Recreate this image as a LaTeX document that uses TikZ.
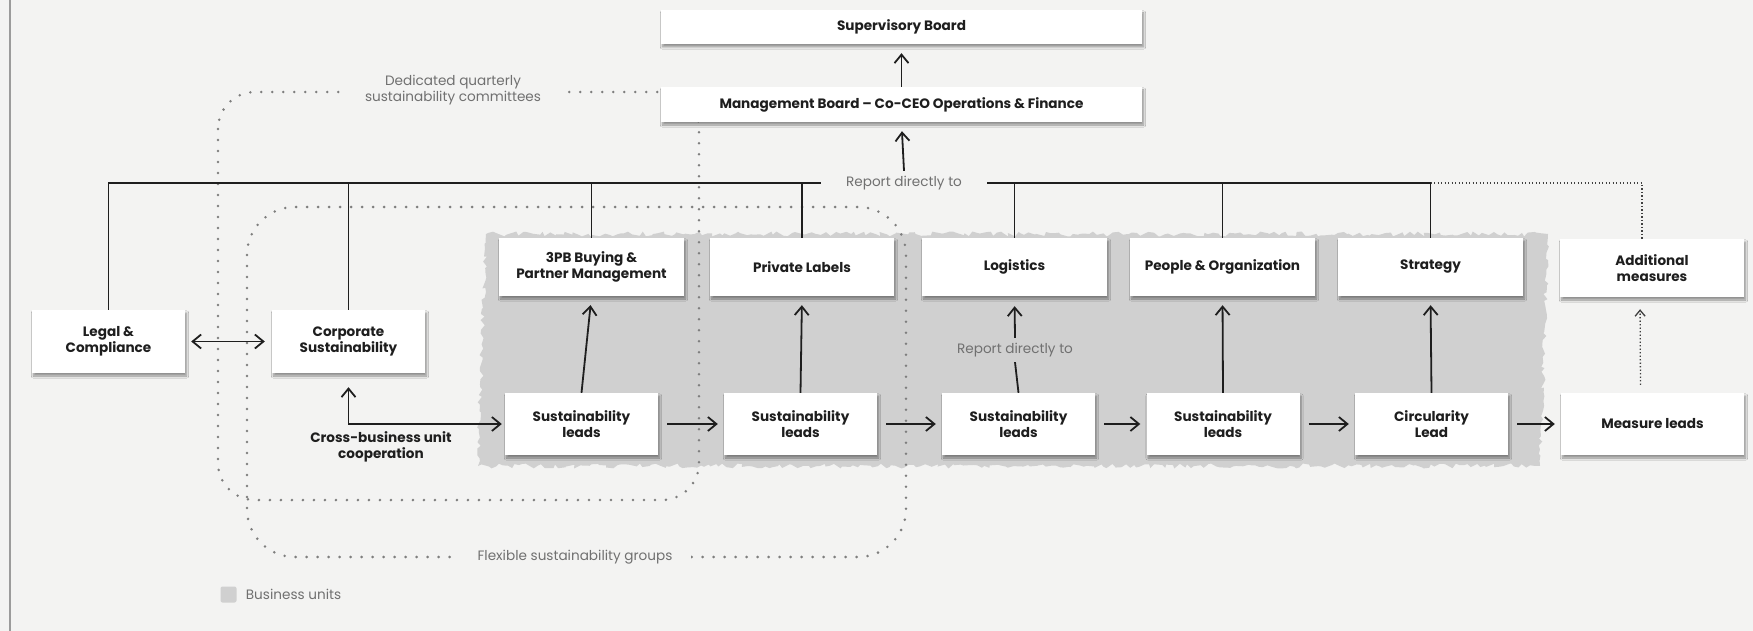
\documentclass[tikz,border=0pt]{standalone}
\usepackage{fontspec}
\setmainfont{Poppins}
\usepackage{tikz}
\usetikzlibrary{arrows.meta,positioning,shadows.blur,decorations.pathmorphing,calc}
\definecolor{papier}{RGB}{243,243,242}
\definecolor{unite}{RGB}{208,208,208}
\definecolor{encre}{RGB}{30,30,30}
\definecolor{gris}{RGB}{112,112,112}

\begin{document}
\begin{tikzpicture}[x=1pt,y=-1pt,
    boite/.style={fill=white,align=center,inner sep=0pt,minimum height=58pt,
      text=encre,font=\bfseries\fontsize{13.6}{15.5}\selectfont,
      blur shadow={shadow xshift=1.5pt,shadow yshift=-3pt,shadow blur steps=6,shadow opacity=40}},
    etiquette/.style={text=gris,font=\fontsize{13.6}{16}\selectfont,align=center,inner ysep=5pt},
    trait/.style={draw=encre,line width=1.8pt},
    fleche/.style={trait,-{Straight Barb[length=8.5pt,width=14pt]}},
    fleche2/.style={trait,{Straight Barb[length=8.5pt,width=14pt]}-{Straight Barb[length=8.5pt,width=14pt]}},
    pointille/.style={draw=gris!90,line width=2.8pt,line cap=round,dash pattern=on 0pt off 11pt},
    fin/.style={draw=encre!85,line width=1.3pt,dash pattern=on 1.3pt off 2.2pt}]
  \fill[papier] (0,0) rectangle (1753,631);
  \useasboundingbox (0,0) rectangle (1753,631);
  \draw[gris!70,line width=1.5pt] (10,0) -- (10,631);

  \pgfmathsetseed{12}
  \fill[unite,decorate,decoration={random steps,segment length=4pt,amplitude=2.5pt}]
    (486,234) -- (1548,234) -- (1540,466) -- (478,466) -- cycle;

  \draw[pointille,rounded corners=37pt] (218,92) rectangle (699,500);
  \draw[pointille,rounded corners=48pt] (247,207) rectangle (906,557);
  \node[etiquette,fill=papier,inner xsep=19pt] (comite) at (453,90) {Dedicated quarterly\\sustainability committees};
  \node[etiquette,fill=papier,inner xsep=19pt] (flexible) at (575,557) {Flexible sustainability groups};

  \node[boite,minimum width=481pt,minimum height=34pt] (sup) at (901.5,27) {Supervisory Board};
  \node[boite,minimum width=481pt,minimum height=35pt] (mgmt) at (901.5,104.5) {Management Board -- Co-CEO Operations \& Finance};

  \node[boite,minimum width=185pt] (achat) at (591.5,267) {3PB Buying \&\\Partner Management};
  \node[boite,minimum width=184pt] (marques) at (802,267) {Private Labels};
  \node[boite,minimum width=185pt] (logistique) at (1014.5,267) {Logistics};
  \node[boite,minimum width=185pt] (rh) at (1222.5,267) {People \& Organization};
  \node[boite,minimum width=185pt] (strategie) at (1430.5,267) {Strategy};
  \node[boite,minimum width=184pt] (mesures) at (1652,268) {Additional\\measures};

  \node[boite,minimum width=153pt,minimum height=63pt] (juridique) at (108.5,341.5) {Legal \&\\Compliance};
  \node[boite,minimum width=153pt,minimum height=63pt] (rse) at (348.5,341.5) {Corporate\\Sustainability};

  \foreach \n/\x in {1/581.5,2/800.5,3/1018.5,4/1223}
    \node[boite,minimum width=153pt,minimum height=62pt] (leads\n) at (\x,424) {Sustainability\\leads};
  \node[boite,minimum width=153pt,minimum height=62pt] (circ) at (1431.5,424) {Circularity\\Lead};
  \node[boite,minimum width=183pt,minimum height=62pt] (mleads) at (1652.5,424) {Measure leads};

  \node[etiquette,inner xsep=25pt] (rapport) at (904,183) {Report directly to};
  \draw[trait] (juridique.north) |- (rapport.west);
  \foreach \b in {rse,achat,marques}
    \draw[trait] (\b.north) -- (\b.north |- rapport.west);
  \draw[trait] (rapport.east) -| (strategie.north);
  \foreach \b in {logistique,rh}
    \draw[trait] (\b.north) -- (\b.north |- rapport.east);
  \draw[fin] (strategie.north |- rapport.east) -| ([xshift=-10pt]mesures.north);

  \draw[fleche,shorten >=9pt] (rapport.north) -- (mgmt.south);
  \draw[fleche,shorten >=9pt] (mgmt.north) -- (sup.south);

  \draw[fleche2,shorten <=6pt,shorten >=7pt] (juridique.east) -- (rse.west);
  \draw[fleche2,shorten <=14pt,shorten >=3pt] (rse.south) |- (leads1.west);
  \node[font=\bfseries\fontsize{13.6}{15.5}\selectfont,text=encre,align=center] (coop) at (381,447) {Cross-business unit\\cooperation};

  \foreach \a/\b in {leads1/leads2,leads2/leads3,leads3/leads4,leads4/circ,circ/mleads}
    \draw[fleche,shorten <=9pt,shorten >=6pt] (\a.east) -- (\b.west);
  \foreach \a/\b in {leads1/achat,leads2/marques,leads4/rh,circ/strategie}
    \draw[fleche,shorten >=9pt] (\a.north) -- (\b.south);

  \node[etiquette] (rapport2) at (1015,350) {Report directly to};
  \draw[trait] (leads3.north) -- (rapport2.south);
  \draw[fleche,shorten >=10pt] (rapport2.north) -- (logistique.south);

  \draw[fin,-{Straight Barb[length=6pt,width=10pt]},shorten <=8pt,shorten >=12pt]
    ([xshift=-12pt]mleads.north) -- ([xshift=-12pt]mesures.south);

  \node[fill=unite,rounded corners=2pt,minimum size=16pt,inner sep=0pt] (cle) at (228.5,594.5) {};
  \node[etiquette,anchor=west,inner sep=0pt] (legende) at ([xshift=9pt]cle.east) {Business units};
\end{tikzpicture}
\end{document}
